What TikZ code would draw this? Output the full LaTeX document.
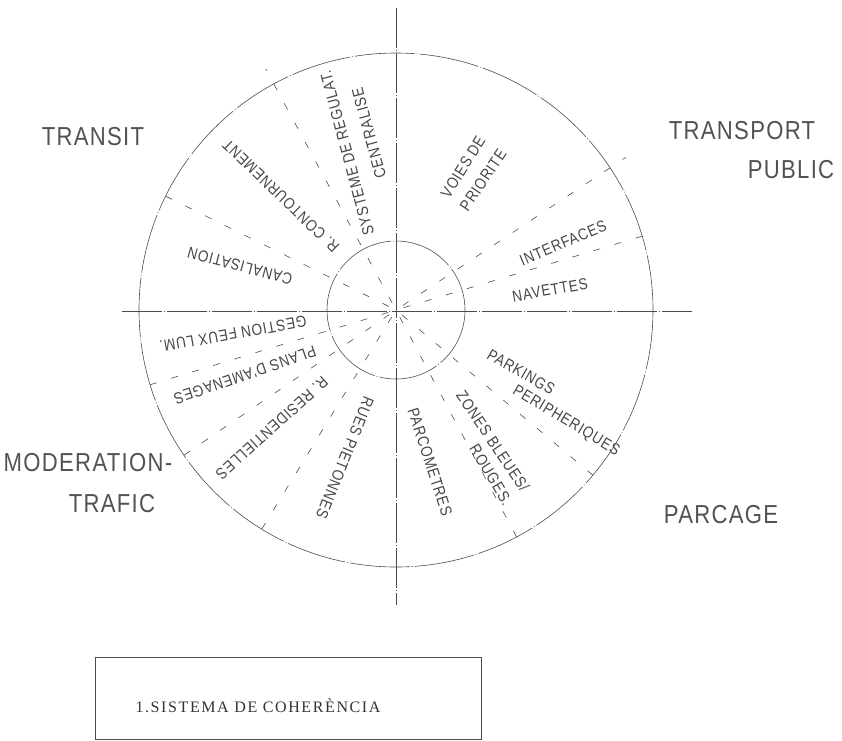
\documentclass[tikz,border=0pt]{standalone}
\usepackage{fontspec}
\newfontfamily\labfont[FakeStretch=0.85,LetterSpace=5]{Liberation Sans}
\newfontfamily\capfont[LetterSpace=10]{Liberation Serif}
\begin{document}
\begin{tikzpicture}[x=1pt,y=-1pt,
  ax/.style={black!70,line width=0.6pt,dash pattern=on 40pt off 2pt on 1pt off 2pt},
  ring/.style={black!70,line width=0.6pt,dash pattern=on 60pt off 2pt on 1pt off 2pt},
  radial/.style={black!70,line width=0.6pt,dash pattern=on 7pt off 15pt},
  inl/.style={font=\labfont\fontsize{16}{18}\selectfont,text=black!72,inner sep=0pt},
  outl/.style={font=\labfont\fontsize{26}{30}\selectfont,text=black!68,inner sep=0pt},
  capt/.style={font=\capfont\fontsize{16}{18}\selectfont,text=black!80,inner sep=0pt},
  frame/.style={black!70,line width=0.6pt}]
\useasboundingbox (0,0) rectangle (842,740);
\coordinate (c) at (396,310);
% circles
\draw[ring] (c) circle[radius=257];
\draw[ring] (c) circle[radius=69];
% axes
\coordinate (vt) at (396,8);
\coordinate (vb) at (396,605);
\coordinate (hl) at (122,311);
\coordinate (hr) at (692,311);
\draw[ax] (vt) -- (vb);
\draw[ax] (hl) -- (hr);
% radial dashed lines (angles negated for y-down coordinates)
\foreach \a/\r in {-118.4/274,-153.7/270,-33.6/276,-16.7/270,-196.9/268,-214.4/264,-238.5/268,40/268,62/264}
  \draw[radial,shift={(c)}] (\a:8) -- (\a:\r);
% quadrant labels
\node[outl] (transit) at (93,137) {TRANSIT};
\node[outl] (transport) at (742,131) {TRANSPORT};
\node[outl] (public) at (791,170) {PUBLIC};
\node[outl] (moder) at (88,463) {MODERATION-};
\node[outl] (trafic) at (112,504) {TRAFIC};
\node[outl] (parcage) at (721,515) {PARCAGE};
% sector labels
\node[inl,rotate=105] (sys1) at (347,153) {SYSTEME DE REGULAT.};
\node[inl,rotate=105] (sys2) at (369,133) {CENTRALISE};
\node[inl,rotate=136] (cont) at (281,196) {R. CONTOURNEMENT};
\node[inl,rotate=165] (canal) at (240,266) {CANALISATION};
\node[inl,rotate=58] (voies) at (463,167) {VOIES DE};
\node[inl,rotate=56] (prio) at (483,180) {PRIORITE};
\node[inl,rotate=23] (inter) at (563,243) {INTERFACES};
\node[inl,rotate=10] (nav) at (550,290) {NAVETTES};
\node[inl,rotate=190] (gest) at (233,334) {GESTION FEUX LUM.};
\node[inl,rotate=199] (plans) at (245,375) {PLANS D'AMENAGES};
\node[inl,rotate=222] (resid) at (272,428) {R. RESIDENTIELLES};
\node[inl,rotate=248] (rues) at (345,458) {RUES PIETONNES};
\node[inl,rotate=-30] (park) at (521,372) {PARKINGS};
\node[inl,rotate=-31] (peri) at (566,421) {PERIPHERIQUES};
\node[inl,rotate=-56] (zones) at (493,441) {ZONES BLEUES/};
\node[inl,rotate=-59] (rouges) at (491,475) {ROUGES.};
\node[inl,rotate=-72] (parco) at (430,462) {PARCOMETRES};
% caption box
\draw[frame] (95,657) rectangle (481,739);
\node[capt] (caption) at (258,706) {1.SISTEMA DE COHERÈNCIA};
\end{tikzpicture}
\end{document}
